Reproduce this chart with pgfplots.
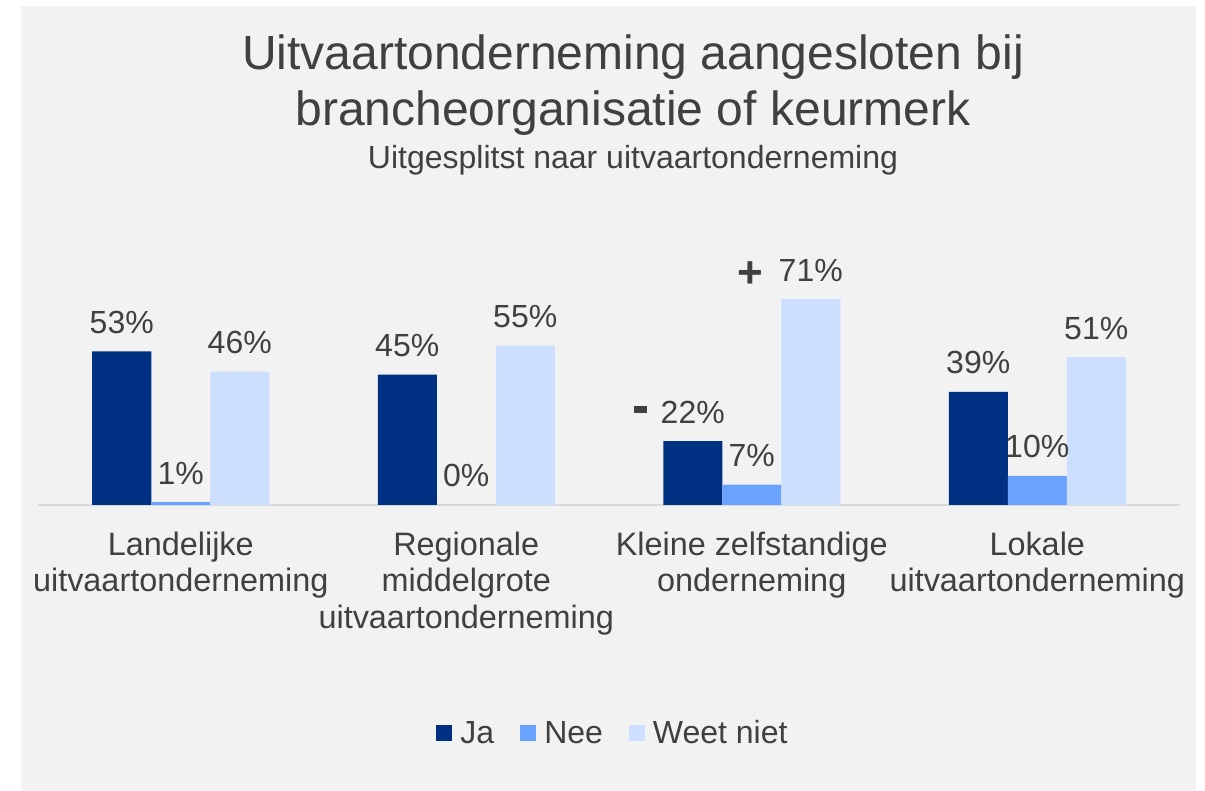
\documentclass[border=0pt]{standalone}
\usepackage{pgfplots}
\pgfplotsset{compat=1.18}
\usepackage{fontspec}
\setmainfont{Liberation Sans}

\definecolor{ja}{HTML}{003082}
\definecolor{nee}{HTML}{6AA3FF}
\definecolor{weet}{HTML}{CCDFFF}
\definecolor{panel}{HTML}{F2F2F2}
\definecolor{txt}{HTML}{404040}
\definecolor{baseln}{HTML}{D9D9D9}

\begin{document}
\begin{tikzpicture}
\fill[white] (0,0) rectangle (602.5pt,395.5pt);
\useasboundingbox (0,0) rectangle (602.5pt,395.5pt);
\fill[panel] (10.5pt,0) rectangle (598pt,392.5pt);

% title
\node[anchor=base, text=txt, font=\fontsize{24}{30}\selectfont, inner sep=0pt] at (316.5pt,360.85pt) {Uitvaartonderneming aangesloten bij};
\node[anchor=base, text=txt, font=\fontsize{24}{30}\selectfont, inner sep=0pt] at (316.5pt,332.5pt) {brancheorganisatie of keurmerk};
\node[anchor=base, text=txt, font=\fontsize{16}{19}\selectfont, inner sep=0pt] at (316.5pt,311.35pt) {Uitgesplitst naar uitvaartonderneming};

\begin{axis}[
    at={(19pt,143pt)}, anchor=south west,
    scale only axis,
    width=571pt, height=116pt,
    xmin=-0.5, xmax=3.5, ymin=0, ymax=80,
    ybar=0pt, bar width=29.5pt,
    axis x line*=bottom, axis y line=none,
    axis line style={-, baseln, line width=0.9pt},
    xtick={0,1,2,3},
    xticklabels={{Landelijke\\uitvaartonderneming},{Regionale\\middelgrote\\uitvaartonderneming},{Kleine zelfstandige\\onderneming},{Lokale\\uitvaartonderneming}},
    major tick length=0pt,
    xticklabel style={align=center, anchor=north, yshift=-13.2pt, text=txt, font=\fontsize{16.2}{18.25}\selectfont, inner sep=0pt},
    ytick=\empty,
    clip=false,
    nodes near coords,
    point meta=explicit symbolic,
    every node near coord/.append style={anchor=base, yshift=9pt, text=txt, font=\fontsize{16}{19}\selectfont, inner sep=0pt},
    every axis plot post/.append style={legend image code/.code={\fill[##1] (0pt,-4pt) rectangle (8pt,4pt);}},
    legend columns=3,
    legend style={draw=none, fill=none, at={(axis description cs:0.5044,-0.985)}, anchor=center,
        font=\fontsize{16}{19}\selectfont, text=txt, column sep=2pt,
        /tikz/every even column/.append style={column sep=11pt}},
]
\addplot[fill=ja, draw=none] coordinates {
    (0,53) [53\%]
    (1,45) [45\%]
    (2,22) [\llap{\rule[5pt]{6.5pt}{3.5pt}\hspace{7pt}}22\%]
    (3,39) [39\%]
};
\addplot[fill=nee, draw=none] coordinates {
    (0,1) [1\%]
    (1,0) [0\%]
    (2,7) [7\%]
    (3,10) [10\%]
};
\addplot[fill=weet, draw=none] coordinates {
    (0,46) [46\%]
    (1,55) [55\%]
    (2,71) [\llap{\raisebox{-3pt}{\fontsize{22}{22}\selectfont\bfseries +}\hspace{8pt}}71\%]
    (3,51) [51\%]
};
\legend{Ja,Nee,Weet niet}
\end{axis}
\end{tikzpicture}
\end{document}
